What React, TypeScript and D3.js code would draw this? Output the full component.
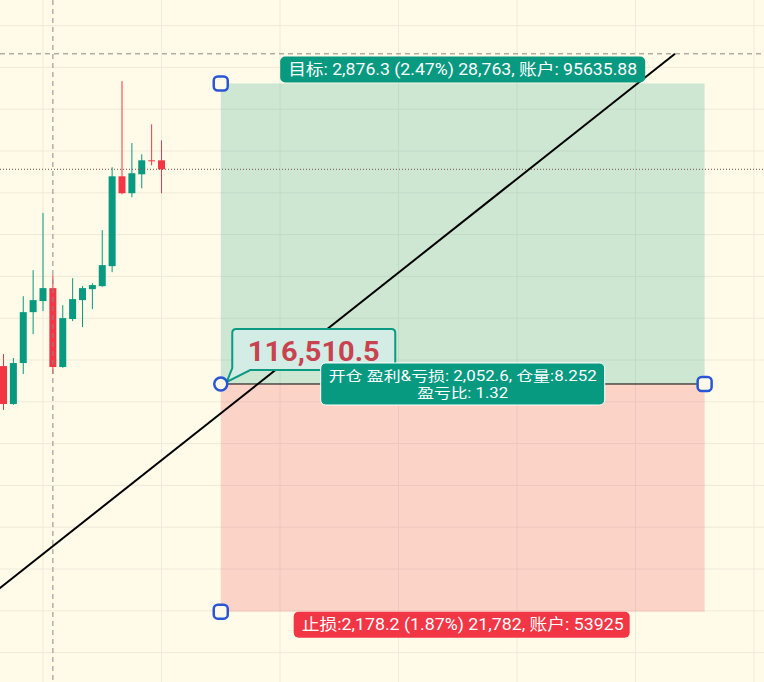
import React from "react";
import * as d3 from "d3";

const W = 764;
const H = 682;

// Candles (bar index 0..16)
const opens = [116682, 116319, 116711, 117198, 117304, 117428, 116673, 117132, 117313, 117418, 117447, 117638, 118498, 118336, 118517, 118651, 118651];
const highs = [116797, 116759, 117351, 117600, 118147, 117552, 117265, 117523, 117447, 117475, 117982, 118584, 119409, 118816, 118708, 118995, 118842];
const lows = [116262, 116310, 116606, 116988, 117208, 116606, 116665, 117112, 117055, 117227, 117440, 117581, 118326, 118297, 118383, 118603, 118336];
const closes = [116319, 116711, 117198, 117313, 117428, 116673, 117141, 117323, 117428, 117457, 117648, 118498, 118336, 118527, 118651, 118645, 118565];

// Grid ticks
const priceGrid = [113940, 114340, 114740, 115140, 115540, 115940, 116340, 116740, 117140, 117540, 117940, 118340, 118740, 119140, 119540, 119940];
const barGrid = [4, 16, 28, 40, 52, 64, 76];

// Position tool
const entryPrice = 116510.5;
const targetPrice = 119386.8;
const stopPrice = 114332.3;
const posStart = 22;
const posEnd = 71;

// Trend line and crosshair
const trendBars = [-10, 68];
const trendPrices = [113837, 119670];
const crossBar = 5;
const crossPrice = 119670;

// Texts
const entryText = "116,510.5";
const targetText = "目标: 2,876.3 (2.47%) 28,763, 账户: 95635.88";
const stopText = "止损:2,178.2 (1.87%) 21,782, 账户: 53925";
const midLine1 = "开仓 盈利&亏损: 2,052.6, 仓量:8.252";
const midLine2 = "盈亏比: 1.32";

const BG = "#fffbe8";
const GRID = "#efeadb";
const UP = "#089981";
const DOWN = "#f23645";
const BLUE = "#2a55d4";
const FONT = "Roboto, 'Noto Sans CJK SC', sans-serif";

export default function App() {
  const x = d3.scaleLinear().domain([0, 76]).range([3.5, 754]);
  const y = d3.scaleLinear().domain([113658.9, 120185.0]).range([H, 0]);
  const bw = 7;

  const xl = x(posStart);
  const xr = x(posEnd);
  const xc = (xl + xr) / 2;
  const yE = y(entryPrice);
  const yT = y(targetPrice);
  const yS = y(stopPrice);

  const lastClose = closes[closes.length - 1];
  const trendLine = d3.line<number>()
    .x((_, i) => x(trendBars[i]))
    .y((d) => y(d));

  // Callout bubble
  const bx0 = xl + 11.5, bx1 = xl + 174.5, by0 = yE - 55, by1 = yE - 14, r = 4;
  const bubble = `M${bx0 + r},${by0} H${bx1 - r} Q${bx1},${by0} ${bx1},${by0 + r} V${by1 - r} Q${bx1},${by1} ${bx1 - r},${by1} H${bx0 + 18} L${xl + 6},${yE - 2} L${bx0},${by1 - 2} V${by0 + r} Q${bx0},${by0} ${bx0 + r},${by0} Z`;

  const hs = 14;

  return (
    <svg width={W} height={H} style={{ position: "fixed", left: 0, top: 0, background: BG }} fontFamily={FONT}>
      <rect x={0} y={0} width={W} height={H} fill={BG} />
      {priceGrid.map((p) => (
        <line key={"h" + p} x1={0} x2={W} y1={y(p)} y2={y(p)} stroke={GRID} strokeWidth={1} />
      ))}
      {barGrid.map((b) => (
        <line key={"v" + b} x1={x(b)} x2={x(b)} y1={0} y2={H} stroke={GRID} strokeWidth={1} />
      ))}

      {opens.map((o, i) => {
        const c = closes[i];
        const col = c >= o ? UP : DOWN;
        const top = y(Math.max(o, c));
        const bot = y(Math.min(o, c));
        return (
          <g key={"c" + i}>
            <line x1={x(i)} x2={x(i)} y1={y(highs[i])} y2={y(lows[i])} stroke={col} strokeWidth={1} />
            <rect x={x(i) - bw / 2} y={top} width={bw} height={Math.max(1, bot - top)} fill={col} />
          </g>
        );
      })}

      {/* position tool */}
      <rect x={xl} y={yT} width={xr - xl} height={yE - yT} fill={UP} fillOpacity={0.2} />
      <rect x={xl} y={yE} width={xr - xl} height={yS - yE} fill={DOWN} fillOpacity={0.2} />

      {/* last price line */}
      <line x1={0} x2={W} y1={y(lastClose)} y2={y(lastClose)} stroke="#7a4a4a" strokeWidth={1} strokeDasharray="1 2" />

      <line x1={xl} x2={xr} y1={yE} y2={yE} stroke="#000" strokeWidth={1} />

      {/* crosshair */}
      <line x1={x(crossBar)} x2={x(crossBar)} y1={0} y2={H} stroke="#8a8a8a" strokeWidth={1} strokeDasharray="5 4" />
      <line x1={0} x2={W} y1={y(crossPrice)} y2={y(crossPrice)} stroke="#8a8a8a" strokeWidth={1} strokeDasharray="5 4" />

      {/* trend line */}
      <path d={trendLine(trendPrices) || ""} fill="none" stroke="#000" strokeWidth={2} />

      {/* entry callout */}
      <path d={bubble} fill="#d3ede6" stroke="#0c9a82" strokeWidth={2} />
      <text x={(bx0 + bx1) / 2} y={by1 - 9} textAnchor="middle" fontSize={28} fontWeight={700} fill="#c8434f" textLength={132} lengthAdjust="spacingAndGlyphs">{entryText}</text>

      {/* target label */}
      <rect x={xc - 182.5} y={yT - 27} width={365} height={26} rx={5} fill={UP} />
      <text x={xc} y={yT - 8.5} textAnchor="middle" fontSize={16} fill="#fff" textLength={349} lengthAdjust="spacingAndGlyphs">{targetText}</text>

      {/* middle label */}
      <rect x={xc - 142} y={yE - 21} width={284} height={42} rx={5} fill={UP} stroke="#fff" strokeWidth={1} />
      <text x={xc} y={yE - 3} textAnchor="middle" fontSize={14} fill="#fff" textLength={268} lengthAdjust="spacingAndGlyphs">{midLine1}</text>
      <text x={xc} y={yE + 14} textAnchor="middle" fontSize={14} fill="#fff" textLength={91} lengthAdjust="spacingAndGlyphs">{midLine2}</text>

      {/* stop label */}
      <rect x={xc - 169} y={yS} width={336} height={26} rx={5} fill={DOWN} />
      <text x={xc} y={yS + 18.5} textAnchor="middle" fontSize={16} fill="#fff" textLength={322} lengthAdjust="spacingAndGlyphs">{stopText}</text>

      {/* handles */}
      <rect x={xl - hs / 2} y={yT - hs / 2} width={hs} height={hs} rx={4} fill={BG} stroke={BLUE} strokeWidth={2.5} />
      <rect x={xl - hs / 2} y={yS - hs / 2} width={hs} height={hs} rx={4} fill={BG} stroke={BLUE} strokeWidth={2.5} />
      <rect x={xr - hs / 2} y={yE - hs / 2} width={hs} height={hs} rx={4} fill={BG} stroke={BLUE} strokeWidth={2.5} />
      <circle cx={xl} cy={yE} r={6.5} fill={BG} stroke={BLUE} strokeWidth={2.5} />
    </svg>
  );
}
